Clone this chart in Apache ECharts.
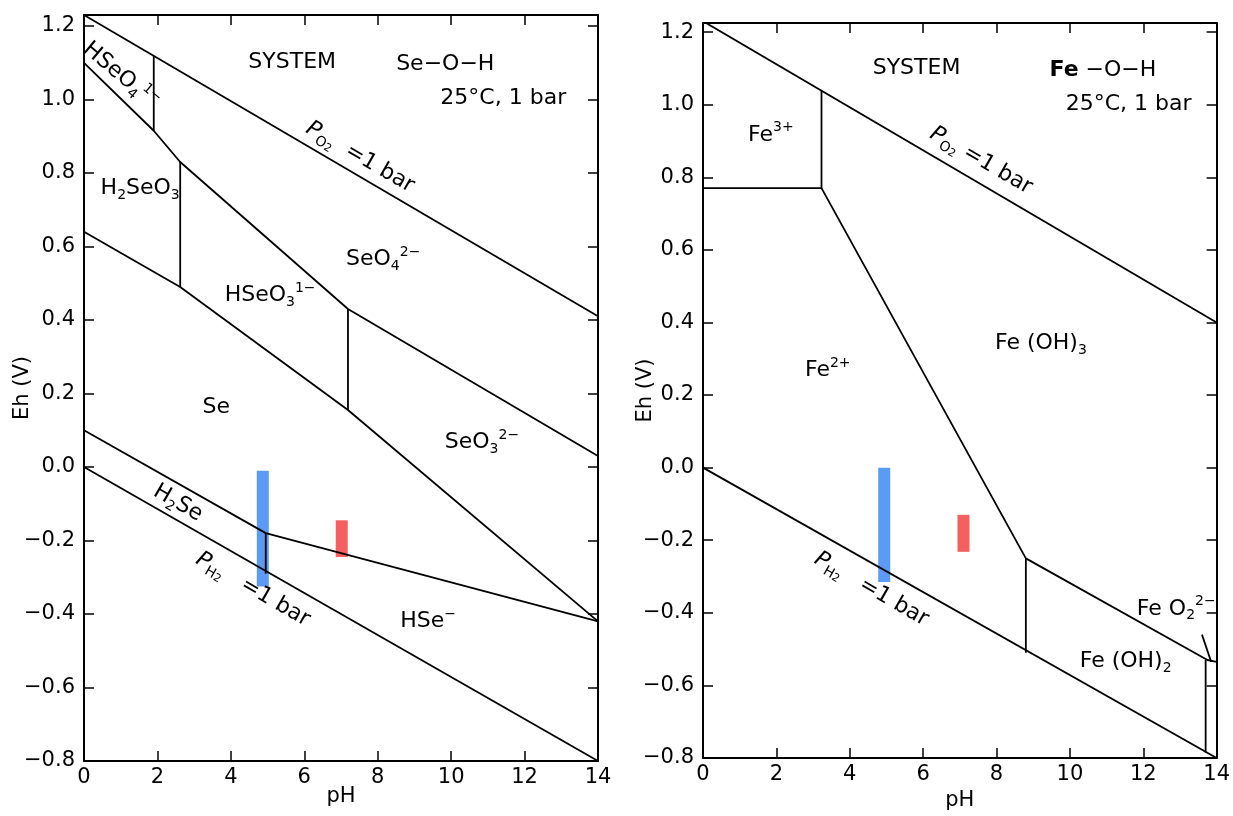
<!DOCTYPE html>
<html><head><meta charset="utf-8">
<script src="https://cdn.jsdelivr.net/npm/echarts@6/dist/echarts.min.js"></script>
<style>html,body{margin:0;padding:0;background:#fff}#c{width:1233px;height:816px}</style>
</head><body><div id="c"></div>
<script>
// ---------- Se-O-H diagram (left) ----------
const seO2Line   = [[0, 1.23], [14, 0.41]];
const seH2Line   = [[0, 0.0], [14, -0.80]];
const seUpper    = [[0, 1.10], [1.9, 0.915], [2.62, 0.83], [7.19, 0.43], [14, 0.03]];
const seVertA    = [[1.9, 0.915], [1.9, 1.118]];
const seVertB    = [[2.62, 0.83], [2.62, 0.49]];
const seMiddle   = [[0, 0.64], [2.62, 0.49], [7.19, 0.155], [14, -0.42]];
const seVertC    = [[7.19, 0.43], [7.19, 0.155]];
const seH2SeLine = [[0, 0.10], [4.95, -0.18], [14, -0.42]];
const seVertD    = [[4.95, -0.18], [4.95, -0.29]];
const seBlueBars = [[4.87, -0.01, -0.325]];   // [pH, Eh top, Eh bottom]
const seRedBars  = [[7.02, -0.145, -0.245]];
const seLabels = [
  ['{t|SYSTEM}', 5.67, 1.10, 0],
  ['{t|Se−O−H}', 9.84, 1.097, 0],
  ['{t|25°C, 1 bar}', 11.42, 1.003, 0],
  ['{t|HSeO}{sub|4}{sup|1−}', 1.0, 1.065, -40],
  ['{t|H}{sub|2}{t|SeO}{sub|3}', 1.53, 0.759, 0],
  ['{t|HSeO}{sub|3}{sup|1−}', 5.07, 0.466, 0],
  ['{t|SeO}{sub|4}{sup|2−}', 8.15, 0.566, 0],
  ['{t|Se}', 3.6, 0.163, 0],
  ['{t|SeO}{sub|3}{sup|2−}', 10.84, 0.068, 0],
  ['{t|H}{sub|2}{t|Se}', 2.56, -0.098, -30],
  ['{t|HSe}{sup|−}', 9.37, -0.42, 0],
  ['{pi|P}{sub|O}{ss|2}{t|  =1 bar}', 7.52, 0.843, -30],
  ['{pi|P}{sub|H}{ss|2}{t|   =1 bar}', 4.6, -0.333, -30]
];

// ---------- Fe-O-H diagram (right) ----------
const feO2Line   = [[0, 1.23], [14, 0.40]];
const feH2Line   = [[0, 0.0], [14, -0.80]];
const feFe3Box   = [[0, 0.77], [3.23, 0.77], [3.23, 1.038]];
const feFe2Upper = [[3.23, 0.77], [8.8, -0.25], [13.75, -0.53], [14, -0.535]];
const feVertA    = [[8.8, -0.25], [8.8, -0.51]];
const feVertB    = [[13.7, -0.53], [13.7, -0.785]];
const feArrow    = [[13.6, -0.46], [13.85, -0.535]];
const feBlueBars = [[4.94, 0.0, -0.315]];
const feRedBars  = [[7.1, -0.13, -0.232]];
const feLabels = [
  ['{t|SYSTEM}', 5.82, 1.099, 0],
  ['{b|Fe}{t| −O−H}', 10.9, 1.094, 0],
  ['{t|25°C, 1 bar}', 11.6, 1.001, 0],
  ['{t|Fe}{sup|3+}', 1.85, 0.917, 0],
  ['{t|Fe}{sup|2+}', 3.4, 0.269, 0],
  ['{t|Fe (OH)}{sub|3}', 9.21, 0.343, 0],
  ['{t|Fe (OH)}{sub|2}', 11.52, -0.533, 0],
  ['{t|Fe O}{sub|2}{sup|2−}', 12.9, -0.389, 0],
  ['{pi|P}{sub|O}{ss|2}{t| =1 bar}', 7.58, 0.846, -30],
  ['{pi|P}{sub|H}{ss|2}{t|   =1 bar}', 4.59, -0.335, -30]
];

const pHMin = 0, pHMax = 14, pHStep = 2;
const ehMin = -0.8, ehStep = 0.2;
const ehMaxLeft = 1.23, ehMaxRight = 1.225;

// ---------- build ----------
const FONT = 'DejaVu Sans';
const INK = '#000';
const base = {fontFamily: FONT, color: INK, textBorderWidth: 0, textShadowBlur: 0, opacity: 1};
const rich = {
  t:   Object.assign({fontSize: 22, lineHeight: 28}, base),
  b:   Object.assign({fontSize: 22, lineHeight: 28, fontWeight: 'bold'}, base),
  pi:  Object.assign({fontSize: 22, lineHeight: 28, fontStyle: 'italic'}, base),
  sub: Object.assign({fontSize: 14, lineHeight: 14, verticalAlign: 'bottom'}, base),
  ss:  Object.assign({fontSize: 11, lineHeight: 8, verticalAlign: 'bottom'}, base),
  sup: Object.assign({fontSize: 14, lineHeight: 16, verticalAlign: 'top'}, base)
};
const yFmt = v => {
  const r = Math.round(v * 10) / 10;
  if (Math.abs(v - r) > 1e-6 || Math.abs(r * 5 - Math.round(r * 5)) > 1e-6) return '';
  return (r < 0 ? '−' : '') + Math.abs(r).toFixed(1);
};
const axisLine = {show: true, onZero: false, lineStyle: {color: INK, width: 2}};
const tick = {show: true, inside: true, length: 10, lineStyle: {color: INK, width: 1.5}};
const labelFont = {fontFamily: FONT, fontSize: 21, color: INK};

function xAxes(g) {
  return [
    {type: 'value', gridIndex: g, min: pHMin, max: pHMax, interval: pHStep, position: 'bottom',
     axisLine, axisTick: tick, splitLine: {show: false},
     axisLabel: Object.assign({margin: 6}, labelFont),
     name: 'pH', nameLocation: 'middle', nameGap: g === 0 ? 25 : 32, nameMoveOverlap: false,
     nameTextStyle: {fontFamily: FONT, fontSize: 21, color: INK}},
    {type: 'value', gridIndex: g, min: pHMin, max: pHMax, interval: pHStep, position: 'top',
     axisLine, axisTick: tick, splitLine: {show: false}, axisLabel: {show: false}}
  ];
}
function yAxes(g, max) {
  return [
    {type: 'value', gridIndex: g, min: ehMin, max, interval: ehStep, position: 'left',
     axisLine, axisTick: tick, splitLine: {show: false},
     axisLabel: Object.assign({margin: 9, formatter: yFmt, showMaxLabel: true}, labelFont),
     name: 'Eh (V)', nameLocation: 'middle', nameGap: g === 0 ? 51 : 47, nameRotate: 90,
     nameMoveOverlap: false,
     nameTextStyle: {fontFamily: FONT, fontSize: 21, color: INK}},
    {type: 'value', gridIndex: g, min: ehMin, max, interval: ehStep, position: 'right',
     axisLine, axisTick: tick, splitLine: {show: false}, axisLabel: {show: false}}
  ];
}
const line = (data, g) => ({type: 'line', data, xAxisIndex: g * 2, yAxisIndex: g * 2,
  symbol: 'none', silent: true, z: 3, lineStyle: {color: INK, width: 1.8}});
const bars = (data, g, color) => ({type: 'custom', data, xAxisIndex: g * 2, yAxisIndex: g * 2,
  silent: true, z: 2,
  renderItem: (p, api) => {
    const a = api.coord([api.value(0), api.value(1)]);
    const b = api.coord([api.value(0), api.value(2)]);
    return {type: 'rect', shape: {x: a[0] - 6, y: a[1], width: 12, height: b[1] - a[1]},
            style: {fill: color}};
  }});
const labels = (list, g) => ({type: 'scatter', xAxisIndex: g * 2, yAxisIndex: g * 2,
  symbolSize: 0, silent: true, z: 4, itemStyle: {opacity: 1},
  emphasis: {disabled: true},
  data: list.map(l => ({value: [l[1], l[2]],
    label: Object.assign({show: true, position: 'inside', formatter: l[0], rotate: l[3], rich}, base)}))});

const BLUE = '#5b9bf5', RED = '#f46060';
const option = {
  animation: false,
  backgroundColor: '#fff',
  grid: [
    {left: 84, top: 15, width: 514, height: 746},
    {left: 703, top: 23, width: 515, height: 744}
  ],
  xAxis: [...xAxes(0), ...xAxes(1)],
  yAxis: [...yAxes(0, ehMaxLeft), ...yAxes(1, ehMaxRight)],
  series: [
    bars(seBlueBars, 0, BLUE), bars(seRedBars, 0, RED),
    line(seO2Line, 0), line(seH2Line, 0), line(seUpper, 0), line(seVertA, 0),
    line(seVertB, 0), line(seMiddle, 0), line(seVertC, 0), line(seH2SeLine, 0), line(seVertD, 0),
    labels(seLabels, 0),
    bars(feBlueBars, 1, BLUE), bars(feRedBars, 1, RED),
    line(feO2Line, 1), line(feH2Line, 1), line(feFe3Box, 1), line(feFe2Upper, 1),
    line(feVertA, 1), line(feVertB, 1), line(feArrow, 1),
    labels(feLabels, 1)
  ]
};
echarts.init(document.getElementById('c')).setOption(option);
</script></body></html>
